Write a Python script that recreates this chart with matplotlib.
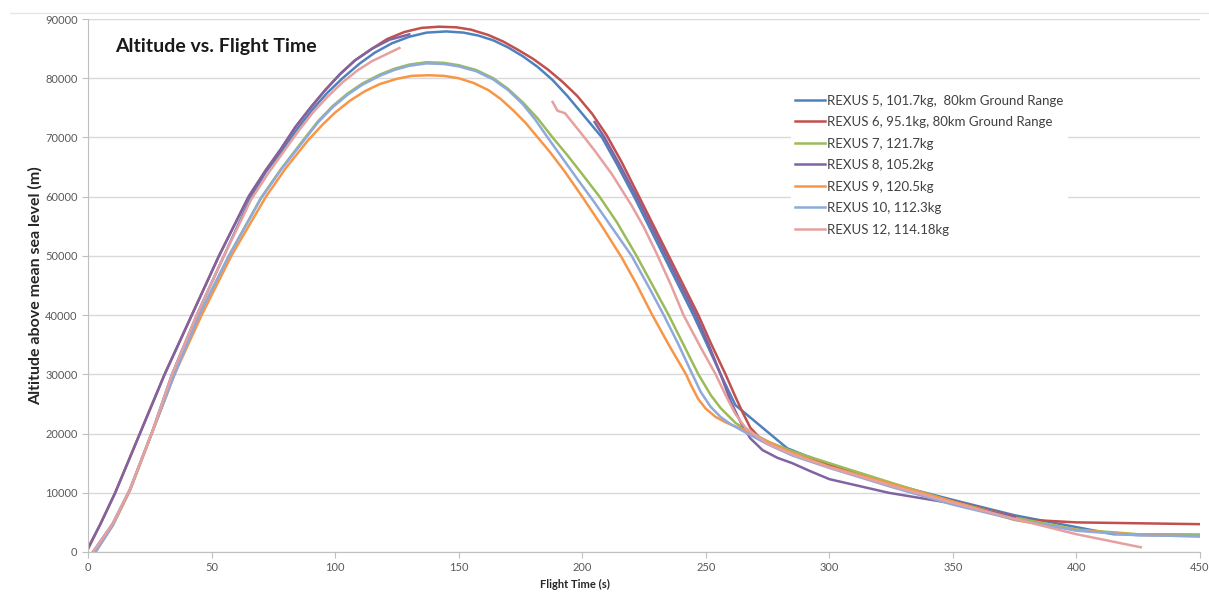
import numpy as np
import matplotlib
matplotlib.use('Agg')
import matplotlib.pyplot as plt
from matplotlib.lines import Line2D

plt.rcParams['font.family'] = ['Lato', 'DejaVu Sans']

# flight time (s) / altitude (m); nan = gap in the record
t_r5 = [2, 10, 17, 26, 34, 44, 55, 66, 72, 79, 85, 91, 97, 103, 110, 116, 123, 130, 137, 145, 152,
        158, 164, 170, 176, 182, 188, 194, 200, 208, 214, 221, 227, 233, 239, 245, 250, 256, 262,
        283, 300, 325, 350, 375, 400, 415, 450]
h_r5 = [0, 4800, 10600, 20300, 30000, 40000, 50000, 60000, 64200, 68000, 71600, 74800, 77600, 80000,
        82500, 84300, 85900, 87000, 87700, 87900, 87700, 87200, 86400, 85200, 83700, 81900, 79700,
        77000, 74000, 70000, 65500, 60000, 55000, 50000, 45000, 40000, 35500, 30000, 24800, 17500,
        14700, 11500, 8800, 6200, 4200, 3000, 2900]

t_r6 = [0, 5, 11, 21, 31, 42, 53, 65, 72, 78, 84, 90, 96, 102, 108, 115, 121, 128, 135, 142, 149,
        155, 162, 168, 174, 180, 186, 192, 198, 204, 210, 216, 223, 229, 235, 241, 247, 252, 258,
        262, 265, 268, 272, 278, 285, 300, 325, 350, 375, 378, 400, 425, 450]
h_r6 = [500, 4700, 10000, 20000, 30000, 40000, 50000, 60000, 64500, 68000, 71800, 75000, 78000,
        80700, 83000, 85000, 86600, 87800, 88500, 88700, 88600, 88200, 87300, 86200, 84800, 83300,
        81500, 79400, 77000, 74000, 70300, 65800, 60000, 55000, 50000, 45000, 40000, 35300, 30000,
        26200, 23500, 21000, 19200, 17800, 16800, 14600, 11300, 8600, 6000, 5500, 5000, 4850, 4700]

t_r7 = [3, 10, 17, 26, 35, 45, 57, 70, 78, 87, 93, 99, 105, 111, 118, 124, 130, 137, 144, 150, 157,
        164, 170, 176, 182, 188, 194, 200, 207, 214, 222, 228, 235, 241, 247, 252, 256, 262, 268,
        276, 285, 300, 325, 350, 375, 400, 425, 450]
h_r7 = [0, 4500, 10500, 20300, 30000, 40000, 50000, 59800, 64600, 69500, 72700, 75300, 77400, 79100,
        80600, 81600, 82300, 82700, 82600, 82200, 81400, 80000, 78200, 75900, 73200, 70000, 67000,
        63800, 60000, 55700, 50000, 45400, 40000, 35000, 30000, 26500, 24300, 21800, 20200, 18500,
        17000, 15000, 11700, 8500, 5800, 3800, 3000, 2900]

t_r8 = [0, 5, 11, 21, 31, 42, 53, 65, 72, 78, 84, 90, 96, 102, 108, 115, 122, 130, np.nan, 205,
        209, 215, 222, 228, 234, 240, 246, 251, 256, 260, 264, 268, 273, 279, 285, 292,
        300, 324, 350, 375]
h_r8 = [700, 4700, 10000, 20000, 30000, 40000, 50000, 60000, 64500, 68000, 71800, 75000, 78000,
        80700, 83000, 85000, 86500, 87400, np.nan, 72600, 70000, 65500, 60000,
        55000, 50000, 45000, 40000, 35200, 30000, 25500, 22000, 19200, 17200, 15900, 15000, 13700,
        12300, 10000, 8200, 5900]

t_r9 = [3, 10, 17, 26, 35, 46, 58, 72, 80, 89, 95, 100, 106, 112, 118, 125, 131, 138, 144, 150, 156,
        162, 167, 172, 177, 181, 187, 193, 200, 208, 216, 222, 228, 235, 242, 244, 247, 250, 254,
        258, 262, 266, 275, 285, 300, 324, 350, 375, 400, 425, 450]
h_r9 = [0, 4500, 10400, 20200, 30000, 40000, 50000, 60000, 64800, 69500, 72200, 74200, 76200, 77800,
        79000, 79900, 80400, 80500, 80400, 80000, 79200, 78000, 76500, 74600, 72500, 70500, 67500,
        64200, 60000, 55000, 49700, 45200, 40300, 35000, 30000, 28200, 25800, 24200, 22800, 21900,
        21200, 20600, 18600, 16700, 14400, 11600, 8500, 5400, 3700, 2900, 2600]

t_r10 = [3, 10, 17, 26, 35, 45, 57, 70, 78, 87, 93, 99, 105, 111, 118, 124, 130, 137, 144, 150, 157,
         164, 170, 176, 181, 186, 192, 198, 205, 212, 220, 227, 233, 239, 244, 248, 252, 256, 260,
         266, 275, 285, 300, 325, 350, 375, 400, 425, 450]
h_r10 = [0, 4500, 10500, 20300, 30000, 40000, 50000, 59700, 64500, 69300, 72500, 75100, 77200, 78900,
         80400, 81400, 82100, 82500, 82400, 82000, 81200, 79800, 78000, 75600, 73000, 70000, 66500,
         63000, 59000, 54800, 50000, 44700, 40000, 35000, 30500, 27000, 24500, 22800, 21600, 20200,
         18200, 16300, 14200, 11000, 8000, 5500, 3600, 2800, 2700]

t_r12 = [2, 10, 17, 26, 34, 44, 55, 66, 73, 79, 85, 91, 97, 103, 109, 115, 121, 126, np.nan, 188,
         190, 193, 199, 205, 212, 220, 225, 230, 236, 241, 248, 254, 258, 262, 266, 275, 285, 300,
         325, 350, 375, 400, 426]
h_r12 = [0, 4800, 10600, 20300, 30000, 40000, 50000, 59500, 64000, 67500, 71000, 74200, 76900,
         79300, 81300, 82900, 84100, 85100, np.nan, 76000, 74500, 74100, 71000, 67800, 63800, 58500,
         54800, 50500, 45000, 40000, 34500, 30000, 26500, 23300, 21000, 18300, 16500, 14300, 11200,
         8300, 5600, 3000, 800]

labels = ['REXUS 5, 101.7kg,  80km Ground Range', 'REXUS 6, 95.1kg, 80km Ground Range',
          'REXUS 7, 121.7kg', 'REXUS 8, 105.2kg', 'REXUS 9, 120.5kg', 'REXUS 10, 112.3kg',
          'REXUS 12, 114.18kg']
colors = ['#4F81BD', '#C0504D', '#9BBB59', '#8064A2', '#F79646', '#8EA9DB', '#E6A0A0']
series = [(t_r5, h_r5), (t_r6, h_r6), (t_r7, h_r7), (t_r8, h_r8), (t_r9, h_r9), (t_r10, h_r10),
          (t_r12, h_r12)]

fig = plt.figure(figsize=(12.09, 5.92), dpi=100)
ax = fig.add_axes([88/1209, 1-552/592, 1112/1209, 533/592])

for (t, h), lab, c in zip(series, labels, colors):
    ax.plot(t, h, color=c, lw=1.8, label=lab, solid_joinstyle='round')

ax.set_xlim(0, 450)
ax.set_ylim(0, 90000)
ax.set_xticks(np.arange(0, 451, 50))
ax.set_yticks(np.arange(0, 90001, 10000))
ax.grid(axis='y', color='#D9D9D9', lw=1)
ax.set_axisbelow(True)
for s in ['top', 'right']:
    ax.spines[s].set_visible(False)
for s in ['left', 'bottom']:
    ax.spines[s].set_color('#BFBFBF')
ax.tick_params(colors='#BFBFBF', labelcolor='#595959', labelsize=8, length=4)

ax.set_xlabel('Flight Time (s)', fontsize=8, fontweight='bold', color='#262626', va='center')
ax.xaxis.set_label_coords(0.438, -0.061)
ax.set_ylabel('Altitude above mean sea level (m)', fontsize=11.5, fontweight='bold',
              color='#262626', va='center')
ax.yaxis.set_label_coords(-0.0476, 0.5)

ax.text(0.024, 0.965, 'Altitude vs. Flight Time', transform=ax.transAxes, fontsize=14,
        fontweight='bold', color='#1a1a1a', va='top')

leg = ax.legend(loc='upper left', bbox_to_anchor=(0.626, 0.878), frameon=True, fontsize=9.5,
                labelspacing=0.72, handlelength=2.3, handletextpad=0.15, borderpad=0.3)
leg.get_frame().set_edgecolor('white')
leg.get_frame().set_facecolor('white')
leg.get_frame().set_alpha(1)
for txt in leg.get_texts():
    txt.set_color('#404040')

fig.add_artist(Line2D([10/1209, 1], [1-13/592, 1-13/592], transform=fig.transFigure,
                      color='#E6E6E6', lw=1))

fig.savefig('out.png', dpi=100)
